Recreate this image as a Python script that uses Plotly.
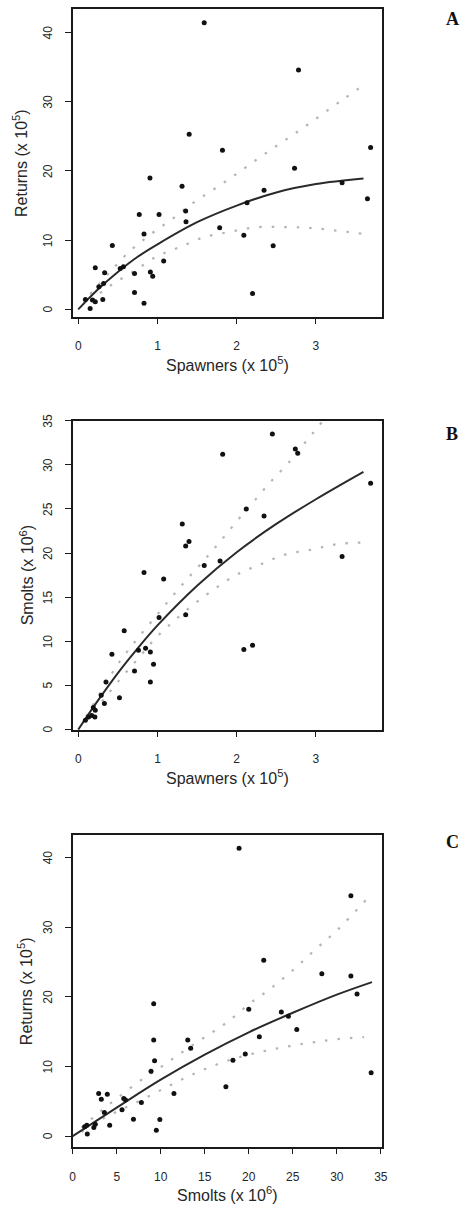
import plotly.graph_objects as go

W, H = 462, 1207

# Panel A: spawners vs returns
A_spawners = [1.59, 2.78, 1.40, 1.82, 3.69, 0.905, 2.73, 1.31, 2.345, 3.33, 3.65, 0.77,
              1.02, 1.356, 1.36, 1.785, 0.83, 2.09, 0.43, 2.46, 1.078, 0.215, 0.333,
              0.53, 0.57, 0.71, 0.91, 0.94, 0.26, 0.32, 0.71, 0.83, 2.2, 0.09, 0.18,
              0.215, 0.31, 0.15, 2.13]
A_returns = [41.4, 34.6, 25.3, 23.0, 23.4, 19.0, 20.4, 17.8, 17.2, 18.3, 16.0, 13.7,
             13.7, 14.2, 12.65, 11.8, 10.9, 10.7, 9.24, 9.2, 7.0, 6.0, 5.3,
             5.9, 6.15, 5.2, 5.4, 4.8, 3.27, 3.75, 2.45, 0.87, 2.3, 1.44, 1.34,
             1.1, 1.44, 0.14, 15.4]
A_fit_x = [0, 0.25, 0.5, 0.75, 1.0, 1.5, 2.0, 2.5, 3.0, 3.6]
A_fit_y = [0, 2.9, 5.4, 7.6, 9.4, 12.6, 15.0, 16.9, 18.1, 18.9]
A_upper_x = [0.15, 0.4, 0.65, 0.92, 1.19, 1.45, 1.73, 2.0, 2.27, 2.54, 2.81, 3.08, 3.35, 3.6]
A_upper_y = [2.2, 5.4, 8.4, 10.9, 13.1, 15.4, 17.5, 19.6, 21.8, 23.9, 26.0, 28.2, 30.4, 32.4]
A_lower_x = [0.15, 0.4, 0.7, 1.0, 1.28, 1.58, 1.91, 2.23, 2.57, 2.88, 3.21, 3.6]
A_lower_y = [1.2, 3.4, 5.5, 7.7, 9.0, 10.4, 11.2, 11.85, 11.9, 11.8, 11.45, 10.9]

# Panel B: spawners vs smolts
B_spawners = [2.45, 1.823, 2.74, 2.77, 3.69, 2.12, 2.345, 1.313, 1.398, 1.356, 3.33,
              1.79, 1.59, 0.83, 1.078, 1.02, 1.356, 0.58, 2.09, 2.2, 0.425, 0.76,
              0.85, 0.91, 0.95, 0.71, 0.91, 0.35, 0.52, 0.29, 0.33, 0.19, 0.215,
              0.17, 0.21, 0.13, 0.09]
B_smolts = [33.5, 31.2, 31.8, 31.3, 27.9, 25.0, 24.2, 23.3, 21.3, 20.8, 19.6,
            19.1, 18.6, 17.8, 17.05, 12.7, 13.0, 11.2, 9.07, 9.56, 8.54, 9.0,
            9.2, 8.8, 7.4, 6.65, 5.4, 5.4, 3.6, 3.9, 2.95, 2.5, 2.2,
            1.6, 1.43, 1.43, 1.05]
B_fit_x = [0, 0.25, 0.5, 0.75, 1.0, 1.5, 2.0, 2.5, 3.0, 3.6]
B_fit_y = [0, 3.3, 6.4, 9.2, 11.8, 16.3, 20.1, 23.3, 26.1, 29.2]
B_upper_x = [0.1, 0.3, 0.5, 0.72, 0.94, 1.15, 1.36, 1.58, 1.79, 2.01, 2.22, 2.44, 2.66, 2.87, 3.09]
B_upper_y = [1.5, 4.5, 7.4, 10.0, 12.4, 14.7, 16.9, 19.1, 21.3, 23.7, 25.9, 28.2, 30.3, 32.6, 35.0]
B_lower_x = [0.1, 0.3, 0.5, 0.75, 0.97, 1.22, 1.46, 1.73, 2.01, 2.32, 2.62, 2.95, 3.26, 3.6]
B_lower_y = [1.0, 3.2, 5.4, 8.0, 10.3, 12.4, 14.2, 16.0, 17.6, 18.8, 19.85, 20.4, 21.0, 21.2]

# Panel C: smolts vs returns
C_smolts = [18.9, 31.6, 21.7, 28.3, 31.6, 32.3, 9.2, 20.0, 23.7, 24.5, 25.45, 9.2,
            13.07, 13.4, 21.2, 9.3, 18.2, 19.6, 33.9, 8.9, 17.4, 11.5, 2.95, 3.93,
            3.25, 5.8, 6.0, 7.8, 3.6, 5.6, 6.9, 9.9, 4.2, 2.57, 2.4, 1.6, 1.36,
            1.66, 9.5]
C_returns = [41.3, 34.5, 25.25, 23.3, 22.96, 20.4, 19.0, 18.2, 17.8, 17.2, 15.3, 13.8,
             13.8, 12.6, 14.25, 10.8, 10.9, 11.8, 9.1, 9.3, 7.1, 6.1, 6.1, 6.0,
             5.3, 5.4, 5.17, 4.83, 3.4, 3.8, 2.44, 2.4, 1.58, 1.7, 1.25, 1.58, 1.34,
             0.29, 0.86]
C_fit_x = [0, 5, 10, 15, 20, 25, 30, 34]
C_fit_y = [0, 4.1, 8.1, 11.7, 14.9, 17.7, 20.3, 22.1]
C_upper_x = [1, 3, 5, 7.5, 10, 12.5, 15, 17.5, 20, 22.5, 25, 27.5, 30, 33.4]
C_upper_y = [1.2, 3.4, 5.4, 7.8, 9.9, 12.1, 14.2, 16.3, 18.9, 21.2, 23.8, 26.7, 29.5, 34.0]
C_lower_x = [1, 3, 5, 7.5, 10, 12.5, 15, 17.5, 20, 22.5, 25, 27.5, 30, 33.1]
C_lower_y = [0.6, 2.2, 3.5, 5.0, 6.6, 8.2, 9.6, 10.8, 11.7, 12.4, 13.0, 13.5, 13.9, 14.2]

# Axis ticks and titles
A_xticks = [0, 1, 2, 3]
A_yticks = [0, 10, 20, 30, 40]
B_xticks = [0, 1, 2, 3]
B_yticks = [0, 5, 10, 15, 20, 25, 30, 35]
C_xticks = [0, 5, 10, 15, 20, 25, 30, 35]
C_yticks = [0, 10, 20, 30, 40]

panels = [
    dict(tag="A", x=A_spawners, y=A_returns, fx=A_fit_x, fy=A_fit_y,
         ux=A_upper_x, uy=A_upper_y, lx=A_lower_x, ly=A_lower_y,
         xr=[-0.07, 3.83], yr=[-1.1, 43.4], xt=A_xticks, yt=A_yticks,
         top=9, bottom=317, xtitle="Spawners (x 10<sup>5</sup>)",
         ytitle="Returns (x 10<sup>5</sup>)", ytx=20, tagy=19),
    dict(tag="B", x=B_spawners, y=B_smolts, fx=B_fit_x, fy=B_fit_y,
         ux=B_upper_x, uy=B_upper_y, lx=B_lower_x, ly=B_lower_y,
         xr=[-0.07, 3.83], yr=[-0.05, 35.0], xt=B_xticks, yt=B_yticks,
         top=420.7, bottom=730, xtitle="Spawners (x 10<sup>5</sup>)",
         ytitle="Smolts (x 10<sup>6</sup>)", ytx=27, tagy=434),
    dict(tag="C", x=C_smolts, y=C_returns, fx=C_fit_x, fy=C_fit_y,
         ux=C_upper_x, uy=C_upper_y, lx=C_lower_x, ly=C_lower_y,
         xr=[0, 35.1], yr=[-1.6, 43.2], xt=C_xticks, yt=C_yticks,
         top=835, bottom=1147.3, xtitle="Smolts (x 10<sup>6</sup>)",
         ytitle="Returns (x 10<sup>5</sup>)", ytx=25, tagy=842),
]

LEFT, RIGHT = 72.7, 381.7
YLABEL_X = 48  # centre of the rotated y tick labels
INK = "#1a1a1a"
TEXT = "#262626"
BAND = "#b4b4b4"
SANS = "Liberation Sans, Arial, sans-serif"

fig = go.Figure()
layout = dict(
    width=W, height=H, margin=dict(l=0, r=0, t=0, b=0),
    paper_bgcolor="white", plot_bgcolor="white", showlegend=False,
    font=dict(family=SANS, color=INK),
)
annotations = []

for i, p in enumerate(panels, start=1):
    xa = "x" if i == 1 else f"x{i}"
    ya = "y" if i == 1 else f"y{i}"
    # confidence bands
    for bx, by in ((p["ux"], p["uy"]), (p["lx"], p["ly"])):
        fig.add_trace(go.Scatter(x=bx, y=by, mode="lines", xaxis=xa, yaxis=ya,
                                 line=dict(color=BAND, width=2.2, dash="2.5px,10px",
                                           shape="spline"),
                                 hoverinfo="skip"))
    # fitted curve
    fig.add_trace(go.Scatter(x=p["fx"], y=p["fy"], mode="lines", xaxis=xa, yaxis=ya,
                             line=dict(color="#2a2a2a", width=2, shape="spline")))
    # observations
    fig.add_trace(go.Scatter(x=p["x"], y=p["y"], mode="markers", xaxis=xa, yaxis=ya,
                             marker=dict(color="#111111", size=5)))

    xdom = [LEFT / W, RIGHT / W]
    ydom = [1 - p["bottom"] / H, 1 - p["top"] / H]
    xkey = "xaxis" if i == 1 else f"xaxis{i}"
    ykey = "yaxis" if i == 1 else f"yaxis{i}"
    layout[xkey] = dict(
        domain=xdom, range=p["xr"], anchor=ya, tickmode="array", tickvals=p["xt"],
        showline=True, mirror=True, linecolor=INK, linewidth=1.8,
        ticks="outside", ticklen=5, tickwidth=1.2, tickcolor=INK,
        showgrid=False, zeroline=False, tickfont=dict(size=12, family=SANS, color=TEXT),
        ticklabelstandoff=12, automargin=False, fixedrange=True,
    )
    layout[ykey] = dict(
        domain=ydom, range=p["yr"], anchor=xa, tickmode="array", tickvals=p["yt"],
        showline=True, mirror=True, linecolor=INK, linewidth=1.8,
        ticks="outside", ticklen=6, tickwidth=1.2, tickcolor=INK,
        showticklabels=False,
        showgrid=False, zeroline=False, automargin=False, fixedrange=True,
    )
    # rotated y tick labels, placed on the axis scale
    for v in p["yt"]:
        annotations.append(dict(
            text=str(v), xref="paper", yref=ya, x=YLABEL_X / W, y=v,
            textangle=-90, xanchor="center", yanchor="middle", showarrow=False,
            font=dict(size=12, family=SANS, color=TEXT)))
    # axis titles
    annotations.append(dict(
        text=p["xtitle"], xref="paper", yref="paper",
        x=(LEFT + RIGHT) / 2 / W, y=1 - (p["bottom"] + 47) / H,
        xanchor="center", yanchor="middle", showarrow=False,
        font=dict(size=16, family=SANS, color=TEXT)))
    annotations.append(dict(
        text=p["ytitle"], xref="paper", yref="paper", textangle=-90,
        x=p["ytx"] / W, y=1 - (p["top"] + p["bottom"]) / 2 / H,
        xanchor="center", yanchor="middle", showarrow=False,
        font=dict(size=16, family=SANS, color=TEXT)))
    # panel letter
    annotations.append(dict(
        text=f"<b>{p['tag']}</b>", xref="paper", yref="paper",
        x=452 / W, y=1 - p["tagy"] / H, xanchor="center", yanchor="middle",
        showarrow=False,
        font=dict(size=18, family="Liberation Serif, Times New Roman, serif", color="#111")))

layout["annotations"] = annotations
fig.update_layout(**layout)
fig.write_html("out.html")
